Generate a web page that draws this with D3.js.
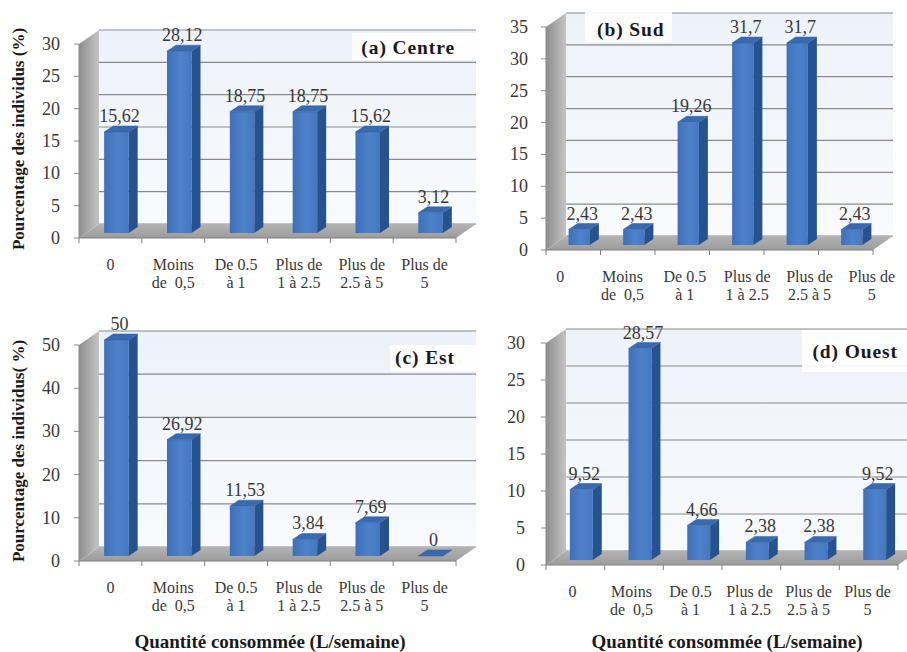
<!DOCTYPE html>
<html>
<head>
<meta charset="utf-8">
<script src="https://cdn.jsdelivr.net/npm/d3@7"></script>
<style>
  html, body { margin: 0; padding: 0; background: #ffffff; }
  svg { display: block; }
</style>
</head>
<body>
<svg id="chart" width="907" height="652"></svg>
<script>
// Consumption classes (two-line labels)
const categories = [
  ["0"],
  ["Moins", "de  0,5"],
  ["De 0.5", "à 1"],
  ["Plus de", "1 à 2.5"],
  ["Plus de", "2.5 à 5"],
  ["Plus de", "5"]
];

// Percentage of individuals per class, by region
const centreValues = [15.62, 28.12, 18.75, 18.75, 15.62, 3.12];
const sudValues    = [2.43, 2.43, 19.26, 31.7, 31.7, 2.43];
const estValues    = [50, 26.92, 11.53, 3.84, 7.69, 0];
const ouestValues  = [9.52, 28.57, 4.66, 2.38, 2.38, 9.52];

// Value-axis ticks
const centreTicks = [0, 5, 10, 15, 20, 25, 30];
const sudTicks    = [0, 5, 10, 15, 20, 25, 30, 35];
const estTicks    = [0, 10, 20, 30, 40, 50];
const ouestTicks  = [0, 5, 10, 15, 20, 25, 30];

const panelTitles = ["(a) Centre", "(b) Sud", "(c) Est", "(d) Ouest"];
const yTitles = ["Pourcentage des individus (%)", null, "Pourcentage des individus( %)", null];
const xTitle = "Quantité consommée (L/semaine)";

const FONT = "'Liberation Serif'";

// Panel geometry
const panels = [
  { values: centreValues, ticks: centreTicks, title: panelTitles[0], yTitle: yTitles[0], xTitle: null,
    x0: 79, x1: 456, y0: 238, yTop: 44, lx0: 79, lx1: 456, tickX: 60,
    titleX: 455, titleY: 54, titleAnchor: "end", box: [352, 33, 124, 27], yTitleX: 24 },
  { values: sudValues, ticks: sudTicks, title: panelTitles[1], yTitle: null, xTitle: null,
    x0: 546, x1: 873, y0: 250, yTop: 27, lx0: 529, lx1: 903, tickX: 528,
    titleX: 597, titleY: 36, titleAnchor: "start", box: [585, 5, 87, 37] },
  { values: estValues, ticks: estTicks, title: panelTitles[2], yTitle: yTitles[2], xTitle: xTitle,
    x0: 79, x1: 456, y0: 561, yTop: 345, lx0: 79, lx1: 456, tickX: 60,
    titleX: 455, titleY: 364, titleAnchor: "end", box: [390, 345, 86, 26], yTitleX: 24, xTitleX: 270 },
  { values: ouestValues, ticks: ouestTicks, title: panelTitles[3], yTitle: null, xTitle: xTitle,
    x0: 546, x1: 898, y0: 565, yTop: 343, lx0: 543, lx1: 897, tickX: 525,
    titleX: 898, titleY: 358, titleAnchor: "end", box: [802, 330, 105, 42], xTitleX: 727 }
];

const DX = 20, DY = 14;            // depth of the 3D box (walls)
const BX = 6, BY = 5;              // front-face offset of the columns inside the box
const CX = 9, CY = 6;              // column depth

const svg = d3.select("#chart");
const defs = svg.append("defs");

const wallGrad = defs.append("linearGradient").attr("id", "wall").attr("x1", 0).attr("y1", 0).attr("x2", 0).attr("y2", 1);
wallGrad.append("stop").attr("offset", "0%").attr("stop-color", "#edf2f9");
wallGrad.append("stop").attr("offset", "100%").attr("stop-color", "#f8fafd");

const sideGrad = defs.append("linearGradient").attr("id", "side").attr("x1", 0).attr("y1", 0).attr("x2", 1).attr("y2", 0);
sideGrad.append("stop").attr("offset", "0%").attr("stop-color", "#8e8e8e");
sideGrad.append("stop").attr("offset", "100%").attr("stop-color", "#c4c4c4");

const floorGrad = defs.append("linearGradient").attr("id", "floor").attr("x1", 0).attr("y1", 1).attr("x2", 0).attr("y2", 0);
floorGrad.append("stop").attr("offset", "0%").attr("stop-color", "#9c9c9c");
floorGrad.append("stop").attr("offset", "100%").attr("stop-color", "#b3b3b3");

const frontGrad = defs.append("linearGradient").attr("id", "front").attr("x1", 0).attr("y1", 0).attr("x2", 1).attr("y2", 0);
frontGrad.append("stop").attr("offset", "0%").attr("stop-color", "#3d70b9");
frontGrad.append("stop").attr("offset", "55%").attr("stop-color", "#4d82cb");
frontGrad.append("stop").attr("offset", "100%").attr("stop-color", "#4477c0");

const fmt = v => String(v).replace(".", ",");
const poly = pts => pts.map(p => p.join(",")).join(" ");

panels.forEach(cfg => {
  const g = svg.append("g");
  const x = d3.scaleBand().domain(d3.range(categories.length)).range([cfg.x0, cfg.x1]);
  const xl = d3.scaleBand().domain(d3.range(categories.length)).range([cfg.lx0, cfg.lx1]);
  const y = d3.scaleLinear().domain([0, d3.max(cfg.ticks)]).range([cfg.y0, cfg.yTop]);

  // back wall
  g.append("rect")
    .attr("x", cfg.x0 + DX).attr("y", cfg.yTop - DY)
    .attr("width", cfg.x1 - cfg.x0).attr("height", cfg.y0 - cfg.yTop)
    .attr("fill", "url(#wall)");

  // gridlines on back wall
  g.selectAll(".grid").data(cfg.ticks).join("line")
    .attr("x1", cfg.x0 + DX).attr("x2", cfg.x1 + DX)
    .attr("y1", d => y(d) - DY).attr("y2", d => y(d) - DY)
    .attr("stroke", "#8a8a8a").attr("stroke-width", 1.2);

  // left side wall
  g.append("polygon")
    .attr("points", poly([[cfg.x0, cfg.y0], [cfg.x0, cfg.yTop], [cfg.x0 + DX, cfg.yTop - DY], [cfg.x0 + DX, cfg.y0 - DY]]))
    .attr("fill", "url(#side)");

  // floor
  g.append("polygon")
    .attr("points", poly([[cfg.x0, cfg.y0], [cfg.x1, cfg.y0], [cfg.x1 + DX, cfg.y0 - DY], [cfg.x0 + DX, cfg.y0 - DY]]))
    .attr("fill", "url(#floor)");

  // title box and panel title
  g.append("rect")
    .attr("x", cfg.box[0]).attr("y", cfg.box[1]).attr("width", cfg.box[2]).attr("height", cfg.box[3])
    .attr("fill", "#ffffff").attr("opacity", 0.9);
  g.append("text")
    .attr("x", cfg.titleX).attr("y", cfg.titleY)
    .attr("text-anchor", cfg.titleAnchor)
    .attr("font-size", 19.5).attr("font-weight", "bold").attr("letter-spacing", 0.9)
    .style("font-family", FONT)
    .attr("fill", "#1a1a1a")
    .text(cfg.title);

  // axes
  g.append("line").attr("x1", cfg.x0).attr("x2", cfg.x1).attr("y1", cfg.y0).attr("y2", cfg.y0)
    .attr("stroke", "#7f7f7f").attr("stroke-width", 1.2);
  g.selectAll(".xtick").data(d3.range(categories.length + 1)).join("line")
    .attr("x1", i => cfg.x0 + i * x.bandwidth()).attr("x2", i => cfg.x0 + i * x.bandwidth())
    .attr("y1", cfg.y0).attr("y2", cfg.y0 + 5)
    .attr("stroke", "#7f7f7f");
  g.append("line").attr("x1", cfg.x0).attr("x2", cfg.x0).attr("y1", cfg.y0).attr("y2", cfg.yTop)
    .attr("stroke", "#8a8a8a");
  g.selectAll(".ytick").data(cfg.ticks).join("line")
    .attr("x1", cfg.x0 - 5).attr("x2", cfg.x0)
    .attr("y1", d => y(d)).attr("y2", d => y(d))
    .attr("stroke", "#8a8a8a");
  g.selectAll(".ylab").data(cfg.ticks).join("text")
    .attr("x", cfg.tickX).attr("y", d => y(d) + 6)
    .attr("text-anchor", "end").attr("font-size", 18).attr("fill", "#383838")
    .style("font-family", FONT)
    .text(d => d);

  // columns
  const bw = x.bandwidth() * 0.39;
  const bars = g.selectAll(".bar").data(cfg.values).join("g");
  const bx = (d, i) => x(i) + x.bandwidth() / 2 - bw / 2 + BX;
  const yb = cfg.y0 - BY;
  const yt = d => y(d) - BY;
  bars.append("rect")
    .attr("x", bx).attr("y", d => yt(d))
    .attr("width", bw).attr("height", d => yb - yt(d))
    .attr("fill", "url(#front)");
  bars.append("polygon")
    .attr("points", (d, i) => poly([[bx(d, i) + bw, yt(d)], [bx(d, i) + bw + CX, yt(d) - CY], [bx(d, i) + bw + CX, yb - CY], [bx(d, i) + bw, yb]]))
    .attr("fill", "#25538f");
  bars.append("polygon")
    .attr("points", (d, i) => poly([[bx(d, i), yt(d)], [bx(d, i) + bw, yt(d)], [bx(d, i) + bw + CX, yt(d) - CY], [bx(d, i) + CX, yt(d) - CY]]))
    .attr("fill", "#3a6aae").attr("stroke", "#2f5d9c").attr("stroke-width", 0.5);
  bars.append("text")
    .attr("x", (d, i) => bx(d, i) + bw / 2 + 3)
    .attr("y", d => yt(d) - CY - 4)
    .attr("text-anchor", "middle").attr("font-size", 18).attr("fill", "#383838")
    .style("font-family", FONT)
    .text(d => fmt(d));

  // category labels
  const cl = g.selectAll(".cat").data(categories).join("text")
    .attr("text-anchor", "middle").attr("font-size", 16).attr("fill", "#383838")
    .style("font-family", FONT);
  cl.selectAll("tspan").data((d, i) => d.map(s => ({ s, i }))).join("tspan")
    .attr("x", d => xl(d.i) + xl.bandwidth() / 2)
    .attr("y", (d, j) => cfg.y0 + 32 + j * 17.5)
    .style("white-space", "pre")
    .text(d => d.s);

  // axis titles
  if (cfg.yTitle) {
    g.append("text")
      .attr("transform", `translate(${cfg.yTitleX},${(cfg.y0 + cfg.yTop) / 2 - 2}) rotate(-90)`)
      .attr("text-anchor", "middle").attr("font-size", 17).attr("font-weight", "bold").attr("fill", "#1a1a1a")
      .style("font-family", FONT)
      .text(cfg.yTitle);
  }
  if (cfg.xTitle) {
    g.append("text")
      .attr("x", cfg.xTitleX).attr("y", 648)
      .attr("text-anchor", "middle").attr("font-size", 19).attr("font-weight", "bold").attr("fill", "#1a1a1a")
      .style("font-family", FONT)
      .text(cfg.xTitle);
  }
});
</script>
</body>
</html>
